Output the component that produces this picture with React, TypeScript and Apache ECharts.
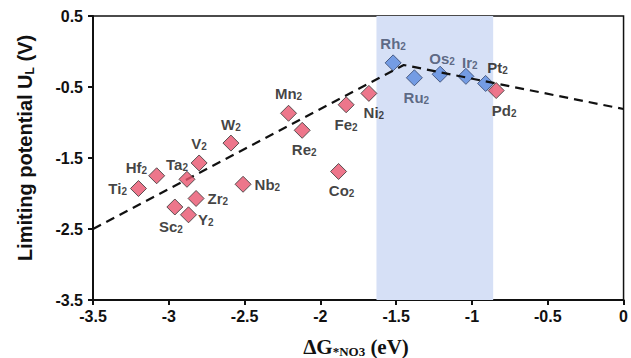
import React, { useEffect, useRef } from "react";
import * as echarts from "echarts";

// Metal dimers (red = off-band, blue = inside the optimal band)
const redNames = ["Ti2", "Hf2", "Ta2", "V2", "W2", "Zr2", "Sc2", "Y2", "Nb2", "Mn2", "Re2", "Fe2", "Ni2", "Co2", "Pd2"];
const redX = [-3.2, -3.08, -2.88, -2.8, -2.59, -2.82, -2.96, -2.87, -2.51, -2.21, -2.12, -1.83, -1.68, -1.88, -0.84];
const redY = [-1.93, -1.75, -1.8, -1.57, -1.29, -2.07, -2.19, -2.3, -1.87, -0.87, -1.11, -0.75, -0.59, -1.69, -0.55];

const blueNames = ["Rh2", "Ru2", "Os2", "Ir2", "Pt2"];
const blueX = [-1.52, -1.38, -1.21, -1.04, -0.91];
const blueY = [-0.16, -0.37, -0.32, -0.35, -0.45];

// Volcano (limiting lines)
const lineX = [-3.5, -1.45, 0];
const lineY = [-2.5, -0.19, -0.81];

// Optimal band on the x axis
const bandRange = [-1.63, -0.86];

const xTicks = [-3.5, -3, -2.5, -2, -1.5, -1, -0.5, 0];
const yTicks = [0.5, -0.5, -1.5, -2.5, -3.5];

// label placement (style only)
const labelPos: Record<string, { position: string; offset: number[] }> = {
  Ti2: { position: "left", offset: [0, 0] },
  Hf2: { position: "left", offset: [2, -8] },
  Ta2: { position: "top", offset: [-10, 5] },
  V2: { position: "top", offset: [0, 0] },
  W2: { position: "top", offset: [0, 1] },
  Zr2: { position: "right", offset: [0, 0] },
  Sc2: { position: "bottom", offset: [-4, 0] },
  Y2: { position: "right", offset: [-2, 5] },
  Nb2: { position: "right", offset: [0, 0] },
  Mn2: { position: "top", offset: [0, 0] },
  Re2: { position: "bottom", offset: [2, 0] },
  Fe2: { position: "bottom", offset: [0, 0] },
  Ni2: { position: "bottom", offset: [5, 0] },
  Co2: { position: "bottom", offset: [3, 0] },
  Pd2: { position: "bottom", offset: [8, 0] },
  Rh2: { position: "top", offset: [0, 0] },
  Ru2: { position: "bottom", offset: [2, 0] },
  Os2: { position: "top", offset: [2, 4] },
  Ir2: { position: "top", offset: [4, 6] },
  Pt2: { position: "top", offset: [12, 4] },
};

const fmtName = (n: string) => `{a|${n.replace(/2$/, "")}}{s|2}`;

const labelRich = (color: string) => ({
  a: { fontSize: 15, fontWeight: "bold", fontFamily: "Liberation Sans, Arial", color, lineHeight: 16 },
  s: { fontSize: 10, fontWeight: "bold", fontFamily: "Liberation Sans, Arial", color, lineHeight: 9, verticalAlign: "bottom" },
});

function buildData(names: string[], xs: number[], ys: number[], color: string, labelColor?: (n: string) => string) {
  return names.map((n, i) => {
    const lp = labelPos[n];
    const lc = labelColor ? labelColor(n) : "#111";
    return {
      name: n,
      value: [xs[i], ys[i]],
      itemStyle: { color },
      label: {
        show: true,
        position: lp.position,
        offset: lp.offset,
        distance: 3,
        formatter: fmtName(n),
        rich: labelRich(lc),
      },
    };
  });
}

export default function App() {
  const ref = useRef<HTMLDivElement>(null);
  useEffect(() => {
    if (!ref.current) return;
    const chart = echarts.init(ref.current, null, { renderer: "svg" });
    const axisFont = { fontSize: 16, fontWeight: "bold", fontFamily: "Liberation Sans, Arial", color: "#111" };
    chart.setOption({
      animation: false,
      backgroundColor: "#fff",
      grid: { left: 93, right: 4, top: 16, bottom: 58, show: true, borderColor: "#111", borderWidth: 1.5, backgroundColor: "transparent" },
      xAxis: {
        type: "value",
        min: xTicks[0],
        max: xTicks[xTicks.length - 1],
        interval: 0.5,
        splitLine: { show: false },
        axisLine: { show: true, onZero: false, lineStyle: { color: "#111", width: 2 } },
        axisTick: { show: true, length: 5, lineStyle: { color: "#111", width: 2 } },
        axisLabel: { ...axisFont, margin: 8, formatter: (v: number) => String(v) },
      },
      yAxis: {
        type: "value",
        min: yTicks[yTicks.length - 1],
        max: yTicks[0],
        interval: 1,
        splitLine: { show: false },
        axisLine: { show: true, onZero: false, lineStyle: { color: "#111", width: 2 } },
        axisTick: { show: true, length: 5, lineStyle: { color: "#111", width: 2 } },
        axisLabel: { ...axisFont, margin: 10, formatter: (v: number) => String(v) },
      },
      graphic: [
        {
          type: "text",
          x: 25,
          y: 148,
          rotation: Math.PI / 2,
          style: {
            text: "{a|Limiting potential U}{s|L}{a| (V)}",
            align: "center",
            verticalAlign: "middle",
            rich: {
              a: { fontSize: 20, fontWeight: "bold", fontFamily: "Liberation Sans, Arial", fill: "#111", lineHeight: 22 },
              s: { fontSize: 12, fontWeight: "bold", fontFamily: "Liberation Sans, Arial", fill: "#111", lineHeight: 12, verticalAlign: "bottom" },
            },
          },
        },
        {
          type: "text",
          x: 356,
          y: 347,
          style: {
            text: "{a|ΔG}{s|*NO3}{a| (eV)}",
            align: "center",
            verticalAlign: "middle",
            rich: {
              a: { fontSize: 21, fontWeight: "bold", fontFamily: "Liberation Serif, Times New Roman, serif", fill: "#111", lineHeight: 22 },
              s: { fontSize: 13, fontWeight: "bold", fontFamily: "Liberation Serif, Times New Roman, serif", fill: "#111", lineHeight: 12, verticalAlign: "bottom" },
            },
          },
        },
      ],
      series: [
        {
          type: "line",
          data: lineX.map((x, i) => [x, lineY[i]]),
          symbol: "none",
          z: 3,
          lineStyle: { color: "#111", width: 2.2, type: [9, 6] },
          markArea: {
            silent: true,
            itemStyle: { color: "#d6e0f6" },
            data: [[{ xAxis: bandRange[0] }, { xAxis: bandRange[1] }]],
          },
        },
        {
          type: "scatter",
          symbol: "diamond",
          symbolSize: 16,
          z: 4,
          itemStyle: { borderColor: "#333", borderWidth: 1 },
          data: buildData(redNames, redX, redY, "#e8546e"),
        },
        {
          type: "scatter",
          symbol: "diamond",
          symbolSize: 16,
          z: 2,
          itemStyle: { borderColor: "#34456a", borderWidth: 1 },
          data: buildData(blueNames, blueX, blueY, "#5b8be0", (n) => (n === "Pt2" ? "#111" : "#3d4a66")),
        },
      ],
    });
    return () => chart.dispose();
  }, []);
  return <div ref={ref} style={{ position: "absolute", left: 0, top: 0, width: 631, height: 358 }} />;
}
